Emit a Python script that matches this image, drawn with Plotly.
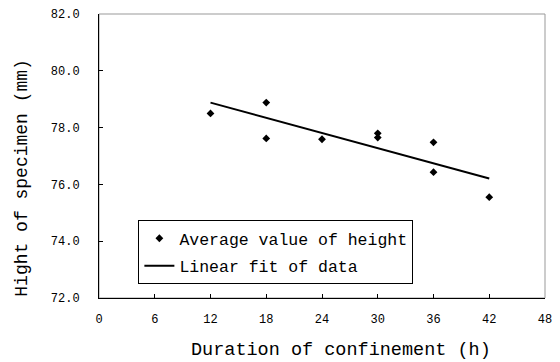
import plotly.graph_objects as go

# Data
duration_h = [12, 18, 18, 24, 30, 30, 36, 36, 42]
avg_height_mm = [78.50, 78.88, 77.62, 77.59, 77.80, 77.65, 77.48, 76.43, 75.55]
fit_x = [12, 42]
fit_y = [78.88, 76.21]

x_ticks = [0, 6, 12, 18, 24, 30, 36, 42, 48]
y_ticks = [72, 74, 76, 78, 80, 82]

FONT = "Liberation Mono"

fig = go.Figure()
fig.add_trace(go.Scatter(
    x=duration_h, y=avg_height_mm, mode="markers",
    name="Average value of height",
    marker=dict(symbol="diamond", size=6, color="black"),
    legendgroup="a",
))
fig.add_trace(go.Scatter(
    x=fit_x, y=fit_y, mode="lines",
    name="Linear fit of data",
    line=dict(color="black", width=2),
    legendgroup="b",
))

fig.update_layout(
    width=560, height=362,
    margin=dict(l=99, r=8, t=14, b=64),
    paper_bgcolor="white", plot_bgcolor="white",
    font=dict(family=FONT, color="black", size=12),
    showlegend=True,
    legend=dict(
        x=(139 - 99) / 453, y=(298 - 220) / 284,
        xanchor="left", yanchor="top",
        bgcolor="white", bordercolor="black", borderwidth=1,
        font=dict(family=FONT, size=16.5, color="black"),
        tracegroupgap=3,
        itemwidth=30,
    ),
    shapes=[dict(type="rect", xref="paper", yref="paper", x0=0, y0=0, x1=1, y1=1,
                 line=dict(color="#999999", width=1), layer="below")],
    annotations=[
        dict(text="Duration of confinement (h)", xref="paper", yref="paper",
             x=(345 - 99) / 453, y=(298 - 350) / 284, xanchor="center", yanchor="middle",
             showarrow=False, font=dict(family=FONT, size=18.5, color="black")),
        dict(text="Hight of specimen (mm)", xref="paper", yref="paper",
             x=(20 - 99) / 453, y=(298 - 177.5) / 284, xanchor="center", yanchor="middle",
             textangle=-90, showarrow=False, font=dict(family=FONT, size=18, color="black")),
    ],
)
fig.update_xaxes(
    range=[0, 48], tickvals=x_ticks, ticktext=[str(v) for v in x_ticks],
    showgrid=False, zeroline=False, showline=True, linecolor="black", linewidth=1,
    ticks="inside", ticklen=4, tickcolor="black",
    tickfont=dict(family=FONT, size=12), ticklabelstandoff=10,
)
fig.update_yaxes(
    range=[72, 82], tickvals=y_ticks, ticktext=[f"{v:.1f}" for v in y_ticks],
    showgrid=False, zeroline=False, showline=True, linecolor="black", linewidth=1,
    ticks="inside", ticklen=4, tickcolor="black",
    tickfont=dict(family=FONT, size=12), ticklabelstandoff=16,
)

fig.write_html("out.html")
